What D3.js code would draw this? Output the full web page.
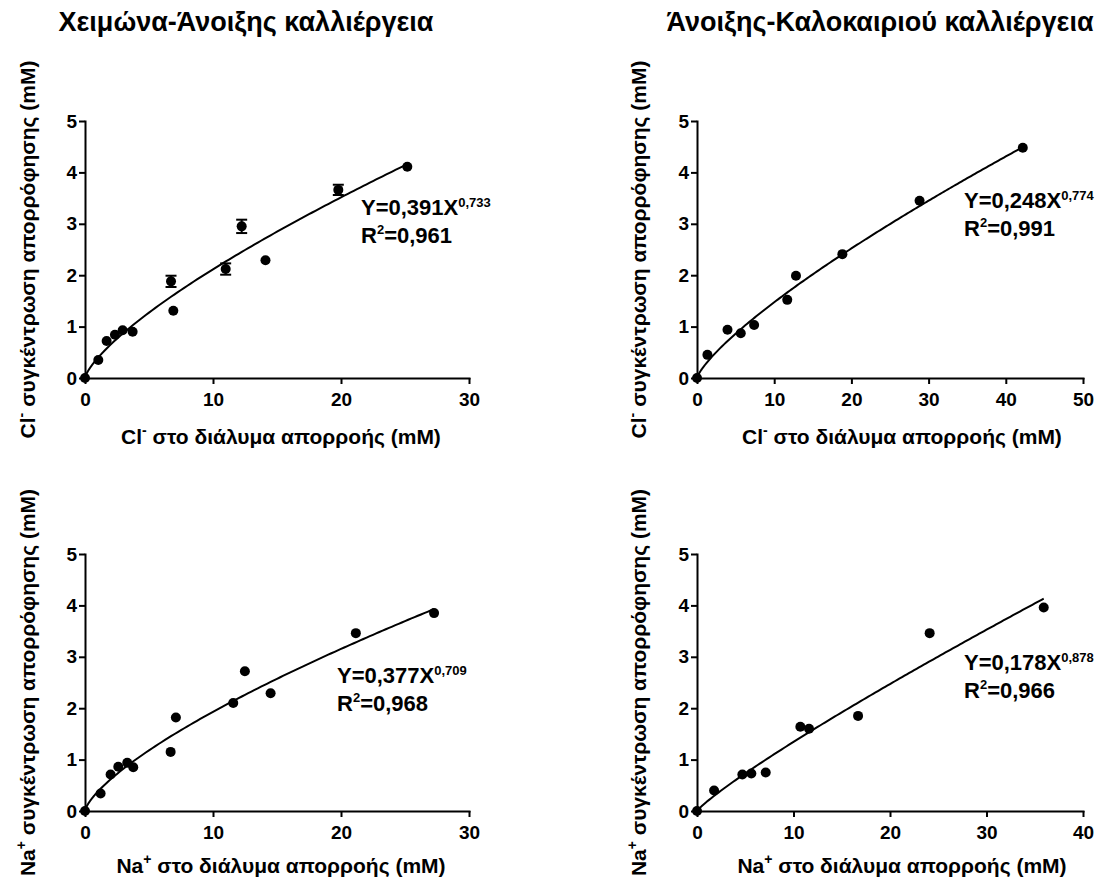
<!DOCTYPE html>
<html lang="el">
  <head>
    <meta charset="UTF-8" />
    <title>Cl και Na απορρόφηση</title>
    <style>
      body {
        margin: 0;
        background: #fff;
      }
      svg text {
        font-family: "Liberation Sans", Arial, sans-serif;
        font-weight: bold;
        fill: #000;
      }
      .axis path,
      .axis line {
        stroke: #000;
        stroke-width: 2px;
      }
      .axis text {
        font-size: 19px;
      }
      .fit {
        fill: none;
        stroke: #000;
        stroke-width: 2px;
      }
      .err {
        stroke: #000;
        stroke-width: 2px;
      }
    </style>
  </head>
  <body>
    <svg width="1115" height="884"></svg>
    <script src="https://cdnjs.cloudflare.com/ajax/libs/d3/7.8.5/d3.min.js"></script>
    <script>
      // Cl, Χειμώνα-Άνοιξης
      const clWinterX = [0, 1.04, 1.69, 2.34, 2.94, 3.72, 6.72, 6.9, 10.99, 12.24, 14.1, 19.79, 25.18];
      const clWinterY = [0, 0.35, 0.72, 0.84, 0.93, 0.9, 1.88, 1.31, 2.12, 2.95, 2.29, 3.66, 4.11];
      const clWinterErr = [0, 0, 0, 0, 0, 0, 0.11, 0, 0.11, 0.13, 0, 0.1, 0];
      // Cl, Άνοιξης-Καλοκαιριού
      const clSpringX = [0, 1.35, 3.95, 5.67, 7.4, 11.69, 12.82, 18.83, 28.83, 42.2];
      const clSpringY = [0, 0.45, 0.94, 0.87, 1.03, 1.52, 1.99, 2.41, 3.45, 4.48];
      // Na, Χειμώνα-Άνοιξης
      const naWinterX = [0, 1.22, 2.0, 2.6, 3.3, 3.77, 6.69, 7.1, 11.58, 12.49, 14.5, 21.16, 27.27];
      const naWinterY = [0, 0.34, 0.71, 0.86, 0.94, 0.85, 1.15, 1.82, 2.1, 2.72, 2.29, 3.46, 3.85];
      // Na, Άνοιξης-Καλοκαιριού
      const naSpringX = [0, 1.77, 4.7, 5.63, 7.12, 10.71, 11.61, 16.69, 24.11, 35.93];
      const naSpringY = [0, 0.4, 0.71, 0.73, 0.75, 1.64, 1.6, 1.85, 3.46, 3.96];

      // Y = a * X^b
      const fitA = [0.391, 0.248, 0.377, 0.178];
      const fitB = [0.733, 0.774, 0.709, 0.878];
      const fitALabel = ["0,391", "0,248", "0,377", "0,178"];
      const fitBLabel = ["0,733", "0,774", "0,709", "0,878"];
      const r2Label = ["0,961", "0,991", "0,968", "0,966"];

      const xMax = [30, 50, 30, 40];
      const xTicks = [
        [0, 10, 20, 30],
        [0, 10, 20, 30, 40, 50],
        [0, 10, 20, 30],
        [0, 10, 20, 30, 40],
      ];
      const yTicks = [0, 1, 2, 3, 4, 5];
      const titles = ["Χειμώνα-Άνοιξης καλλιέργεια", "Άνοιξης-Καλοκαιριού καλλιέργεια"];
      const ions = ["Cl", "Cl", "Na", "Na"];
      const charges = ["-", "-", "+", "+"];

      const series = [
        { x: clWinterX, y: clWinterY, err: clWinterErr },
        { x: clSpringX, y: clSpringY, err: null },
        { x: naWinterX, y: naWinterY, err: null },
        { x: naSpringX, y: naSpringY, err: null },
      ];

      // θέσεις πλαισίων
      const frames = [
        { left: 85, right: 469, top: 121, bottom: 378, eqX: 361, eqY: 215, yt: 35, xt: 281, xtY: 444 },
        { left: 697, right: 1083, top: 121, bottom: 378, eqX: 964, eqY: 208, yt: 646, xt: 902, xtY: 444 },
        { left: 85, right: 469, top: 554, bottom: 811, eqX: 337, eqY: 683, yt: 35, xt: 281, xtY: 873 },
        { left: 697, right: 1083, top: 554, bottom: 811, eqX: 964, eqY: 670, yt: 646, xt: 902, xtY: 873 },
      ];

      const svg = d3.select("svg");

      svg
        .selectAll(".title")
        .data(titles)
        .enter()
        .append("text")
        .attr("class", "title")
        .attr("x", (d, i) => [246, 880][i])
        .attr("y", 31)
        .attr("text-anchor", "middle")
        .style("font-size", "27px")
        .text((d) => d);

      series.forEach((s, i) => {
        const f = frames[i];
        const g = svg.append("g");
        const x = d3.scaleLinear().domain([0, xMax[i]]).range([f.left, f.right]);
        const y = d3.scaleLinear().domain([0, 5]).range([f.bottom, f.top]);

        g.append("g")
          .attr("class", "axis")
          .attr("transform", `translate(0,${f.bottom})`)
          .call(
            d3
              .axisBottom(x)
              .tickValues(xTicks[i])
              .tickFormat(d3.format("d"))
              .tickSize(6)
              .tickSizeOuter(0)
              .tickPadding(9)
          );
        g.append("g")
          .attr("class", "axis")
          .attr("transform", `translate(${f.left},0)`)
          .call(
            d3
              .axisLeft(y)
              .tickValues(yTicks)
              .tickFormat(d3.format("d"))
              .tickSize(6)
              .tickSizeOuter(0)
              .tickPadding(2)
          );
        g.selectAll(".axis path").attr("stroke-linecap", "square");

        // καμπύλη προσαρμογής
        const lastX = d3.max(s.x);
        const fx = d3.range(0, 1, 0.02).concat(d3.range(1, lastX, 0.25)).concat([lastX]);
        const line = d3
          .line()
          .x((d) => x(d))
          .y((d) => y(fitA[i] * Math.pow(d, fitB[i])));
        g.append("path").attr("class", "fit").attr("d", line(fx));

        const pts = s.x.map((v, k) => ({ x: v, y: s.y[k], e: s.err ? s.err[k] : 0 }));
        const bars = pts.filter((p) => p.e > 0);
        g.selectAll(".err-v")
          .data(bars)
          .enter()
          .append("line")
          .attr("class", "err")
          .attr("x1", (d) => x(d.x))
          .attr("x2", (d) => x(d.x))
          .attr("y1", (d) => y(d.y - d.e))
          .attr("y2", (d) => y(d.y + d.e));
        [-1, 1].forEach((sign) => {
          g.selectAll(null)
            .data(bars)
            .enter()
            .append("line")
            .attr("class", "err")
            .attr("x1", (d) => x(d.x) - 5.5)
            .attr("x2", (d) => x(d.x) + 5.5)
            .attr("y1", (d) => y(d.y + sign * d.e))
            .attr("y2", (d) => y(d.y + sign * d.e));
        });

        g.selectAll("circle")
          .data(pts)
          .enter()
          .append("circle")
          .attr("cx", (d) => x(d.x))
          .attr("cy", (d) => y(d.y))
          .attr("r", 5)
          .attr("fill", "#000");

        // τίτλοι αξόνων
        const xt = g
          .append("text")
          .attr("x", f.xt)
          .attr("y", f.xtY)
          .attr("text-anchor", "middle")
          .style("font-size", "21px");
        xt.append("tspan").text(ions[i]);
        xt.append("tspan").attr("dy", -9).style("font-size", "14px").text(charges[i]);
        xt.append("tspan").attr("dy", 9).text(" στο διάλυμα απορροής (mM)");

        const yt = g
          .append("text")
          .attr("transform", `translate(${f.yt},${(f.top + f.bottom) / 2}) rotate(-90)`)
          .attr("text-anchor", "middle")
          .style("font-size", "21px");
        yt.append("tspan").text(ions[i]);
        yt.append("tspan").attr("dy", -9).style("font-size", "14px").text(charges[i]);
        yt.append("tspan").attr("dy", 9).text(" συγκέντρωση απορρόφησης (mM)");

        // εξίσωση
        const eq = g
          .append("text")
          .attr("x", f.eqX)
          .attr("y", f.eqY)
          .style("font-size", "22px");
        eq.append("tspan").text(`Y=${fitALabel[i]}X`);
        eq.append("tspan").attr("dy", -8).style("font-size", "13px").text(fitBLabel[i]);
        const r2 = g
          .append("text")
          .attr("x", f.eqX)
          .attr("y", f.eqY + 28)
          .style("font-size", "22px");
        r2.append("tspan").text("R");
        r2.append("tspan").attr("dy", -9).style("font-size", "13px").text("2");
        r2.append("tspan").attr("dy", 9).text(`=${r2Label[i]}`);
      });
    </script>
  </body>
</html>
